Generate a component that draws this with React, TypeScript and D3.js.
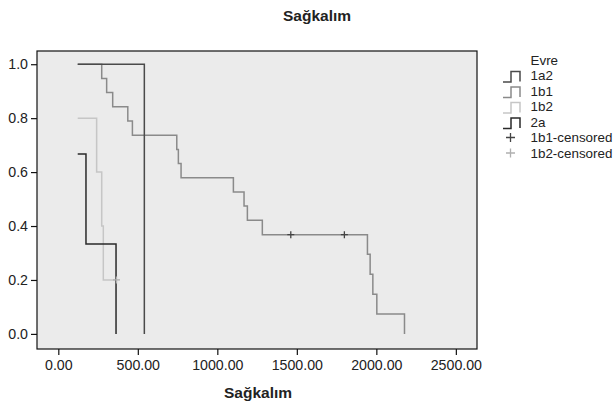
import React, { useEffect, useRef } from 'react';
import * as d3 from 'd3';

// Kaplan-Meier steps (time in days, survival)
const groups = ['1a2', '1b1', '1b2', '2a'];

const time1a2 = [122, 541];
const surv1a2 = [1.0, 0.0];

const time1b1 = [122, 273, 304, 342, 437, 466, 745, 755, 772, 1101, 1168, 1189, 1283, 1944, 1961, 1978, 2003, 2177];
const surv1b1 = [1.0, 0.947, 0.895, 0.842, 0.789, 0.737, 0.684, 0.632, 0.579, 0.526, 0.474, 0.421, 0.368, 0.295, 0.221, 0.147, 0.074, 0.0];

const time1b2 = [122, 241, 273, 283, 366];
const surv1b2 = [0.8, 0.6, 0.4, 0.2, 0.2];

const time2a = [122, 174, 363];
const surv2a = [0.667, 0.333, 0.0];

const censor1b1Time = [1462, 1799];
const censor1b1Surv = [0.368, 0.368];
const censor1b2Time = [366];
const censor1b2Surv = [0.2];

const xTicks = [0, 500, 1000, 1500, 2000, 2500];
const yTicks = [0, 0.2, 0.4, 0.6, 0.8, 1.0];

const lineColors: Record<string, string> = {
  '1a2': '#4a4a4a',
  '1b1': '#8a8a8a',
  '1b2': '#c6c6c6',
  '2a': '#2a2a2a',
};
const censorColors = ['#444444', '#b0b0b0'];

const W = 614;
const H = 406;
const plot = { left: 37, right: 477, top: 51, bottom: 349 };

const App = () => {
  const ref = useRef<SVGSVGElement | null>(null);

  useEffect(() => {
    const svg = d3.select(ref.current);
    svg.selectAll('*').remove();

    const x = d3.scaleLinear().domain([-134, 2633]).range([plot.left, plot.right]);
    const y = d3.scaleLinear().domain([-0.056, 1.049]).range([plot.bottom, plot.top]);

    svg
      .append('rect')
      .attr('x', plot.left)
      .attr('y', plot.top)
      .attr('width', plot.right - plot.left)
      .attr('height', plot.bottom - plot.top)
      .attr('fill', '#ebebeb');

    const series: { name: string; t: number[]; s: number[] }[] = [
      { name: '1b2', t: time1b2, s: surv1b2 },
      { name: '1b1', t: time1b1, s: surv1b1 },
      { name: '1a2', t: time1a2, s: surv1a2 },
      { name: '2a', t: time2a, s: surv2a },
    ];

    const line = d3
      .line<[number, number]>()
      .x(d => x(d[0]))
      .y(d => y(d[1]))
      .curve(d3.curveStepAfter);

    series.forEach(sr => {
      const pts = sr.t.map((t, i) => [t, sr.s[i]] as [number, number]);
      svg
        .append('path')
        .attr('d', line(pts))
        .attr('fill', 'none')
        .attr('stroke', lineColors[sr.name])
        .attr('stroke-width', 1.5);
    });

    const cross = (g: any, cx: number, cy: number, r: number, color: string) => {
      g.append('path')
        .attr('d', `M${cx - r},${cy}H${cx + r}M${cx},${cy - r}V${cy + r}`)
        .attr('stroke', color)
        .attr('stroke-width', 1.3)
        .attr('fill', 'none');
    };

    censor1b1Time.forEach((t, i) => cross(svg, x(t), y(censor1b1Surv[i]), 3.5, censorColors[0]));
    censor1b2Time.forEach((t, i) => cross(svg, x(t), y(censor1b2Surv[i]), 3.5, censorColors[1]));

    // frame
    svg
      .append('rect')
      .attr('x', plot.left)
      .attr('y', plot.top)
      .attr('width', plot.right - plot.left)
      .attr('height', plot.bottom - plot.top)
      .attr('fill', 'none')
      .attr('stroke', '#111')
      .attr('stroke-width', 1.2);

    const font = '"Liberation Sans", Arial, sans-serif';

    const xAxis = svg
      .append('g')
      .attr('transform', `translate(0,${plot.bottom})`)
      .call(
        d3
          .axisBottom(x)
          .tickValues(xTicks)
          .tickFormat(d3.format('.2f') as any)
          .tickSize(6)
          .tickPadding(5)
      );
    xAxis.select('.domain').remove();
    xAxis.selectAll('line').attr('stroke', '#111').attr('stroke-width', 1.2);
    xAxis.selectAll('text').attr('font-size', 14.2).attr('font-family', font).attr('fill', '#222');

    const yAxis = svg
      .append('g')
      .attr('transform', `translate(${plot.left},0)`)
      .call(
        d3
          .axisLeft(y)
          .tickValues(yTicks)
          .tickFormat(d3.format('.1f') as any)
          .tickSize(6)
          .tickPadding(3)
      );
    yAxis.select('.domain').remove();
    yAxis.selectAll('line').attr('stroke', '#111').attr('stroke-width', 1.2);
    yAxis.selectAll('text').attr('font-size', 14.2).attr('font-family', font).attr('fill', '#222');

    svg
      .append('text')
      .attr('x', 317)
      .attr('y', 20.5)
      .attr('text-anchor', 'middle')
      .attr('font-family', font)
      .attr('font-weight', 'bold')
      .attr('font-size', 15.5)
      .attr('fill', '#222')
      .text('Sağkalım');

    svg
      .append('text')
      .attr('x', 258)
      .attr('y', 398)
      .attr('text-anchor', 'middle')
      .attr('font-family', font)
      .attr('font-weight', 'bold')
      .attr('font-size', 15.5)
      .attr('fill', '#222')
      .text('Sağkalım');

    // legend
    const lg = svg.append('g').attr('font-family', font).attr('font-size', 13.4).attr('fill', '#222');
    const lx = 530.5;
    const row0 = 60;
    const step = 15.5;
    lg.append('text').attr('x', lx).attr('y', row0).attr('dy', '0.35em').text('Evre');

    groups.forEach((g, i) => {
      const cy = row0 + step * (i + 1);
      lg.append('path')
        .attr('d', `M503,${cy + 6.5}H511V${cy - 4}H520V${cy + 6}`)
        .attr('fill', 'none')
        .attr('stroke', lineColors[g])
        .attr('stroke-width', 1.5);
      lg.append('text').attr('x', lx).attr('y', cy).attr('dy', '0.35em').text(g);
    });

    ['1b1-censored', '1b2-censored'].forEach((label, i) => {
      const cy = row0 + step * (groups.length + 1 + i);
      cross(lg, 510.5, cy, 4.5, censorColors[i]);
      lg.append('text').attr('x', lx).attr('y', cy).attr('dy', '0.35em').text(label);
    });
  }, []);

  return (
    <svg
      ref={ref}
      width={W}
      height={H}
      style={{ position: 'absolute', left: 0, top: 0, background: '#fff' }}
    />
  );
};

export default App;
